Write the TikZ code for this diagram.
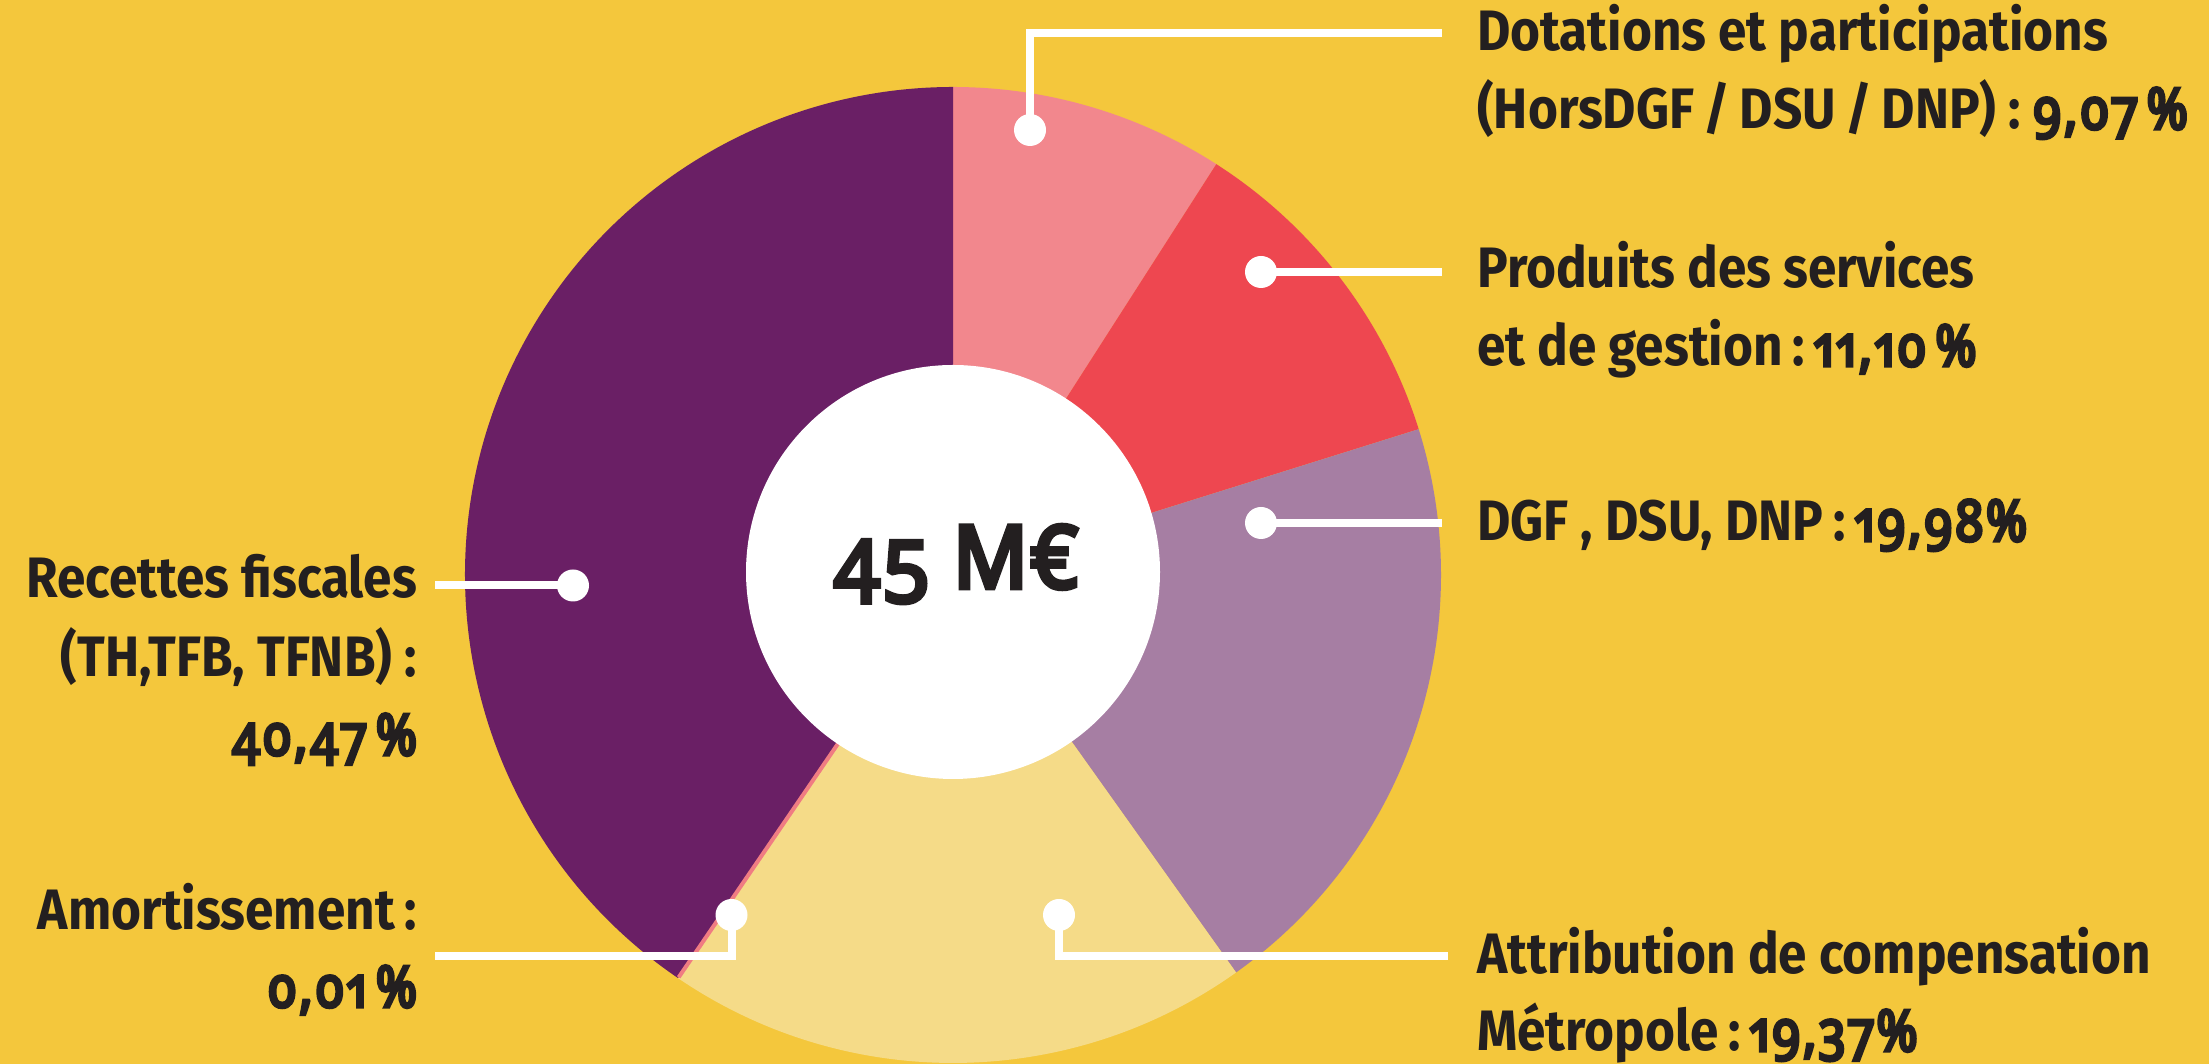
\documentclass[tikz,border=0pt]{standalone}
\usepackage{fontspec}
\setmainfont{Fira Sans}[FakeStretch=0.9]
\newfontfamily\numfont{Noto Sans}[Numbers={OldStyle,Proportional},FakeStretch=0.86,FakeBold=6,LetterSpace=5]
\newfontfamily\centerfont{Noto Sans}[Numbers={OldStyle,Proportional},FakeStretch=0.95,FakeBold=5.5,LetterSpace=3]
\definecolor{bg}{HTML}{F4C73C}
\definecolor{cpurple}{HTML}{6A1F65}
\definecolor{cpink}{HTML}{F2878D}
\definecolor{cred}{HTML}{EE4750}
\definecolor{cmauve}{HTML}{A67EA3}
\definecolor{clight}{HTML}{F5DB88}
\definecolor{camort}{HTML}{F07C82}
\definecolor{ink}{HTML}{231F20}
\tikzset{
  lab/.style={inner sep=0pt, text=ink, font=\bfseries\fontsize{57}{78}\selectfont},
  lead/.style={white, line width=8pt, line join=miter},
  dotc/.style={circle, fill=white, inner sep=0pt, minimum size=32pt},
}
\newcommand{\num}[1]{{\numfont #1}}
\begin{document}
\begin{tikzpicture}[x=1pt,y=1pt]
\useasboundingbox (0,0) rectangle (2209,1064);
\fill[bg] (0,0) rectangle (2209,1064);
\coordinate (C) at (953,489);
% wedges
\fill[cpink]   (C) -- ++(90:488)      arc[start angle=90,      end angle=57.348,   radius=488] -- cycle;
\fill[cred]    (C) -- ++(57.348:488)  arc[start angle=57.348,  end angle=17.388,   radius=488] -- cycle;
\fill[cmauve]  (C) -- ++(17.388:488)  arc[start angle=17.388,  end angle=-54.54,   radius=488] -- cycle;
\fill[clight]  (C) -- ++(-54.54:488)  arc[start angle=-54.54,  end angle=-124.272, radius=488] -- cycle;
\fill[cpurple] (C) -- ++(-124.308:488) arc[start angle=-124.308, end angle=-270,   radius=488] -- cycle;
\draw[camort, line width=4pt] (C) -- ++(-124.29:487);
% centre
\node[circle, fill=white, minimum size=414pt, inner sep=0pt] (hole) at (953,492) {};
\node[inner sep=0pt, anchor=base west, text=ink, font=\centerfont\fontsize{87}{87}\selectfont] (total) at (833,476) {45 M€};
% dots
\node[dotc] (d1) at (1030,934) {};
\node[dotc] (d2) at (1261,792) {};
\node[dotc] (d3) at (1261,541) {};
\node[dotc] (d4) at (1059,149) {};
\node[dotc] (d5) at (731.5,149) {};
\node[dotc] (d6) at (573,478.5) {};
\coordinate (e1) at (1442,1031);
\coordinate (e2) at (1442,792);
\coordinate (e3) at (1442,541);
\coordinate (e4) at (1448,108);
\coordinate (e5) at (435,108);
\coordinate (e6) at (435,478.5);
\draw[lead] (d1.center) |- (e1);
\draw[lead] (d2.center) -- (e2);
\draw[lead] (d3.center) -- (e3);
\draw[lead] (d4.center) |- (e4);
\draw[lead] (d5.center) |- (e5);
\draw[lead] (d6.center) -- (e6);
% right labels
\node[lab, anchor=base west] (t1a) at (1477,1013) {Dotations et participations};
\node[lab, anchor=base west] (t1b) at (1477,935) {(HorsDGF\,/\,DSU\,/\,DNP) : \num{9,07\,\%}};
\node[lab, anchor=base west] (t2a) at (1477,776) {Produits des services};
\node[lab, anchor=base west] (t2b) at (1477,698) {et de gestion\,:\,\num{11,10\,\%}};
\node[lab, anchor=base west] (t3) at (1477,523) {DGF , DSU, DNP\,:\,\num{19,98\%}};
\node[lab, anchor=base west] (t4a) at (1477,90) {Attribution de compensation};
\node[lab, anchor=base west] (t4b) at (1477,13) {Métropole\,:\,\num{19,37\%}};
% left labels
\node[lab, anchor=base east] (t6a) at (417,466) {Recettes fiscales};
\node[lab, anchor=base east] (t6b) at (417,387.5) {(TH,TFB, TFNB) :};
\node[lab, anchor=base east] (t6c) at (417,309) {\num{40,47\,\%}};
\node[lab, anchor=base east] (t5a) at (417,134) {Amortissement\,:};
\node[lab, anchor=base east] (t5b) at (417,57) {\num{0,01\,\%}};
\end{tikzpicture}
\end{document}
